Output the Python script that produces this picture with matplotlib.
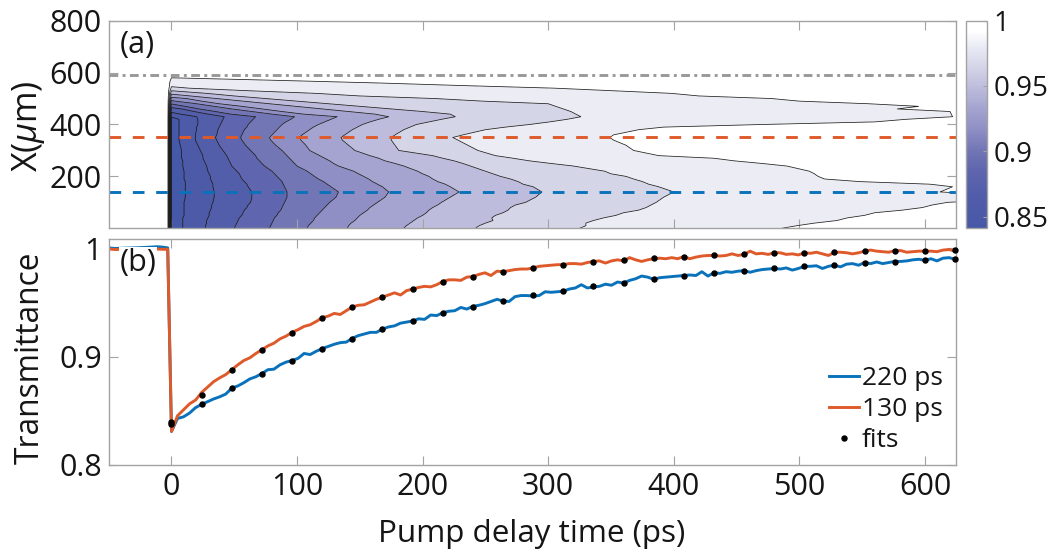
import numpy as np
import matplotlib
matplotlib.use("Agg")
import matplotlib.pyplot as plt
from matplotlib.colors import LinearSegmentedColormap, Normalize
from matplotlib.cm import ScalarMappable

plt.rcParams['font.family'] = ['Open Sans', 'DejaVu Sans']
plt.rcParams['mathtext.fontset'] = 'custom'
plt.rcParams['mathtext.rm'] = 'Open Sans'
plt.rcParams['mathtext.it'] = 'Open Sans:italic'

# ---------- panel (a): contour levels and, per X row, the delay at which each level is reached
levels = [0.845, 0.861, 0.877, 0.893, 0.909, 0.925, 0.941, 0.957, 0.973, 0.989]
x_rows = [0, 10, 20, 30, 40, 50, 60, 70, 80, 90, 100, 120, 140, 160, 170, 180, 190, 200, 210, 220, 240, 250, 260,
          270, 280, 300, 320, 340, 350, 360, 380, 390, 400, 410, 420, 430, 440, 450, 460, 470, 480, 490, 500,
          510, 520, 530, 540, 550, 560, 570, 580, 590, 800]
t_min_row = [0.84] * 35 + [0.846, 0.855, 0.864, 0.872, 0.882, 0.894, 0.906, 0.919, 0.932, 0.945, 0.957,
                           0.969, 0.976, 0.979, 0.984, 0.989, 1.0, 1.0]
crossings = [
    [9, 27, 50, 78, 108, 140, 185, 242, 325, 486],
    [9, 27, 51, 79, 109, 141, 187, 245, 330, 498],
    [9, 28, 52, 80, 111, 143, 190, 250, 330, 512],
    [9, 28, 53, 81, 113, 146, 193, 256, 336, 530],
    [9, 29, 54, 82, 114, 148, 196, 255, 344, 538],
    [10, 30, 56, 84, 116, 150, 200, 258, 354, 552],
    [10, 30, 57, 85, 118, 153, 203, 264, 360, 560],
    [10, 31, 58, 87, 120, 156, 205, 268, 372, 582],
    [10, 32, 60, 88, 122, 158, 208, 270, 378, 598],
    [10, 32, 61, 89, 124, 161, 212, 274, 382, 606],
    [10, 33, 63, 90, 126, 164, 215, 282, 386, 618],
    [11, 34, 64, 92, 131, 170, 222, 290, 392, 700],
    [11, 34, 64, 92, 133, 173, 229, 295, 400, 612],
    [11, 33, 61, 90, 127, 168, 222, 288, 388, 622],
    [11, 33, 60, 89, 124, 164, 218, 280, 380, 604],
    [11, 32, 58, 88, 121, 160, 212, 276, 375, 548],
    [10, 31, 56, 86, 117, 157, 208, 270, 368, 520],
    [10, 31, 55, 84, 114, 153, 205, 262, 362, 515],
    [10, 30, 54, 82, 111, 149, 200, 256, 350, 512],
    [10, 29, 52, 80, 108, 145, 196, 250, 345, 508],
    [9, 28, 48, 74, 100, 133, 185, 238, 320, 490],
    [9, 27, 47, 72, 98, 129, 178, 232, 302, 470],
    [9, 26, 46, 70, 96, 126, 170, 225, 285, 448],
    [8, 25, 45, 68, 94, 122, 165, 216, 272, 432],
    [8, 25, 44, 67, 92, 118, 158, 208, 258, 388],
    [8, 23, 41, 63, 88, 110, 146, 181, 244, 368],
    [7, 21, 38, 59, 83, 107, 141, 178, 236, 362],
    [6, 19, 36, 56, 79, 103, 136, 175, 228, 352],
    [6, 19, 35, 55, 78, 102, 135, 175, 224, 349],
    [6, 19, 36, 56, 80, 104, 138, 178, 232, 352],
    [6, 20, 37, 58, 84, 110, 144, 185, 250, 372],
    [6, 20, 38, 60, 86, 113, 148, 190, 266, 392],
    [6, 21, 39, 61, 88, 117, 152, 195, 285, 470],
    [6, 21, 40, 63, 91, 122, 158, 205, 301, 560],
    [6, 21, 41, 65, 95, 127, 165, 215, 315, 585],
    [0, 20, 42, 67, 98, 132, 173, 226, 326, 622],
    [0, 7, 29, 47, 80, 105, 162, 222, 322, 621],
    [0, 0, 18, 35, 64, 88, 141, 200, 318, 620],
    [0, 0, 8, 22, 48, 72, 120, 175, 312, 578],
    [0, 0, 0, 11, 34, 56, 99, 150, 306, 595],
    [0, 0, 0, 0, 20, 38, 78, 125, 300, 555],
    [0, 0, 0, 0, 3, 24, 57, 100, 248, 500],
    [0, 0, 0, 0, 0, 12, 36, 75, 210, 478],
    [0, 0, 0, 0, 0, 0, 15, 50, 150, 420],
    [0, 0, 0, 0, 0, 0, 0, 28, 115, 398],
    [0, 0, 0, 0, 0, 0, 0, 0, 62, 352],
    [0, 0, 0, 0, 0, 0, 0, 0, 14, 305],
    [0, 0, 0, 0, 0, 0, 0, 0, 0, 232],
    [0, 0, 0, 0, 0, 0, 0, 0, 0, 165],
    [0, 0, 0, 0, 0, 0, 0, 0, 0, 85],
    [0, 0, 0, 0, 0, 0, 0, 0, 0, 0],
    [0, 0, 0, 0, 0, 0, 0, 0, 0, 0],
    [0, 0, 0, 0, 0, 0, 0, 0, 0, 0],
]
x_cuts = [138, 350, 590]   # dashed cuts

# ---------- panel (b)
t_pre = [-50, -45, -30, -20, -11, -7, -3, 0]
blue_pre = [1.0005, 1.0000, 1.0005, 1.0010, 1.0016, 1.0012, 1.0005, 0.831]
orange_pre = [0.9995, 0.9990, 0.9995, 1.0000, 0.9995, 0.9992, 0.9992, 0.831]
t_step = 4.8
orange_vals = [
    .8455, .8510, .8565, .8600, .8670, .8720, .8770, .8805, .8835, .8880,
    .8925, .8965, .8990, .9030, .9065, .9100, .9125, .9165, .9190, .9225,
    .9250, .9280, .9295, .9325, .9360, .9375, .9400, .9390, .9425, .9460,
    .9475, .9480, .9505, .9530, .9550, .9570, .9590, .9570, .9610, .9625,
    .9640, .9650, .9645, .9665, .9695, .9710, .9710, .9705, .9735, .9740,
    .9760, .9775, .9750, .9790, .9785, .9795, .9805, .9810, .9810, .9820,
    .9835, .9840, .9845, .9850, .9850, .9860, .9860, .9855, .9870, .9880,
    .9885, .9865, .9885, .9895, .9885, .9915, .9895, .9880, .9895, .9905,
    .9910, .9905, .9915, .9905, .9925, .9905, .9920, .9930, .9935, .9935,
    .9930, .9935, .9950, .9935, .9945, .9975, .9950, .9955, .9945, .9960,
    .9960, .9945, .9950, .9940, .9960, .9955, .9965, .9950, .9935, .9965,
    .9965, .9960, .9950, .9960, .9975, .9985, .9975, .9970, .9965, .9980,
    .9980, .9965, .9970, .9975, .9975, .9975, .9970, .9985, .9990, .9975]
blue_vals = [
    .8430, .8445, .8480, .8530, .8560, .8585, .8610, .8630, .8655, .8710,
    .8730, .8760, .8795, .8815, .8845, .8880, .8885, .8925, .8950, .8965,
    .8985, .9030, .9020, .9050, .9075, .9095, .9115, .9130, .9135, .9170,
    .9195, .9210, .9225, .9225, .9255, .9275, .9285, .9310, .9320, .9330,
    .9350, .9345, .9385, .9380, .9405, .9420, .9425, .9455, .9440, .9465,
    .9475, .9490, .9510, .9530, .9515, .9510, .9555, .9565, .9565, .9560,
    .9565, .9600, .9595, .9600, .9605, .9625, .9635, .9665, .9635, .9645,
    .9650, .9670, .9660, .9690, .9680, .9705, .9720, .9745, .9735, .9715,
    .9730, .9735, .9740, .9745, .9750, .9755, .9750, .9785, .9745, .9775,
    .9770, .9785, .9780, .9790, .9795, .9780, .9795, .9805, .9810, .9815,
    .9810, .9820, .9800, .9815, .9835, .9835, .9840, .9815, .9835, .9845,
    .9830, .9855, .9860, .9845, .9870, .9860, .9875, .9860, .9870, .9880,
    .9880, .9885, .9895, .9900, .9890, .9905, .9885, .9910, .9915, .9900]
t_fit = [0, 24, 48, 72, 96, 120, 144, 168, 192, 216, 240, 264, 288, 312, 336, 360, 384, 408, 432, 456,
         480, 504, 528, 552, 576, 600, 624]
orange_fit = [.8400, .8650, .8877, .9065, .9222, .9354, .9462, .9551, .9625, .9690, .9739, .9785, .9819,
              .9850, .9875, .9893, .9911, .9924, .9936, .9948, .9955, .9960, .9967, .9973, .9976, .9979, .9982]
blue_fit = [.8380, .8563, .8714, .8843, .8963, .9071, .9166, .9253, .9330, .9400, .9462, .9517, .9567,
            .9610, .9650, .9684, .9717, .9748, .9773, .9794, .9816, .9835, .9850, .9868, .9878, .9890, .9899]
series_labels = ['220 ps', '130 ps', 'fits']

BLUE = '#0A72BA'
ORANGE = '#DF5A2A'
GRAY = '#A3A3A3'
TXT = '#151515'
FS = 22

W, H = 1050, 552
fig = plt.figure(figsize=(W / 100, H / 100), dpi=100, facecolor='white')
def axpx(l, t, r, b):
    return fig.add_axes([l / W, 1 - b / H, (r - l) / W, (b - t) / H])

ax_a = axpx(108.7, 20.7, 956.3, 228.3)
ax_b = axpx(108.7, 238.7, 956.3, 465)
cax = axpx(966.3, 20.7, 986.7, 228.3)

cmap = LinearSegmentedColormap.from_list('tr', [
    (0.0, '#4658A8'), (0.075, '#4C5AA8'), (0.176, '#535EAA'), (0.277, '#5F65AE'), (0.377, '#7276B5'),
    (0.478, '#8F8FC6'), (0.579, '#A5A4D0'), (0.679, '#BDBCDC'), (0.78, '#D5D5E8'), (0.88, '#EBEBF5'),
    (0.95, '#FFFFFF'), (1.0, '#FFFFFF')])
norm = Normalize(0.841, 1.0)

# curvilinear mesh: rows are X, columns follow the level crossings
cr = np.array(crossings, float)
t_min_arr = np.array(t_min_row)[:, None]
n = len(x_rows)
Tm = np.hstack([np.full((n, 1), -3.0), np.zeros((n, 1)), cr, np.full((n, 1), 700.0)])
Zm = np.hstack([np.ones((n, 1)), t_min_arr, np.maximum(np.array(levels)[None, :], t_min_arr), np.ones((n, 1))])
Xm = np.repeat(np.array(x_rows, float)[:, None], Tm.shape[1], axis=1)

ax_a.contourf(Tm, Xm, Zm, levels=[0.83] + levels + [1.01], cmap=cmap, norm=norm)
ax_a.contour(Tm, Xm, Zm, levels=levels, colors='#1A1A1A', linewidths=0.55)
ax_a.axhline(x_cuts[2], color='#999999', lw=2.1, ls=(0, (3, 1.5, 1, 1.5)))
ax_a.axhline(x_cuts[1], color=ORANGE, lw=2.1, ls=(0, (4, 4)))
ax_a.axhline(x_cuts[0], color=BLUE, lw=2.1, ls=(0, (4, 4)))
ax_a.set_xlim(-50, 625)
ax_a.set_ylim(0, 800)
ax_a.set_yticks([200, 400, 600, 800])
ax_a.set_xticks([0, 100, 200, 300, 400, 500, 600])
ax_a.set_xticklabels([])
ax_a.set_ylabel('X($\\mu$m)', fontsize=FS + 2.5, color=TXT)
ax_a.yaxis.set_label_coords(-0.0725, 0.493)
ax_a.text(120 / W, 1 - 45 / H, '(a)', transform=fig.transFigure, fontsize=FS, color=TXT, va='center', ha='left')

t_line = t_pre + [round(t_step * (i + 1), 1) for i in range(len(orange_vals))]
ax_b.plot(t_line, blue_pre + blue_vals, color=BLUE, lw=2.1, label=series_labels[0])
ax_b.plot(t_line, orange_pre + orange_vals, color=ORANGE, lw=2.1, label=series_labels[1])
ax_b.plot(t_fit, orange_fit, ls='none', marker='o', ms=3.6, color='black', zorder=4, clip_on=False)
ax_b.plot(t_fit, blue_fit, ls='none', marker='o', ms=3.6, color='black', zorder=4, label=series_labels[2], clip_on=False)
ax_b.set_xlim(-50, 625)
ax_b.set_ylim(0.8, 1.009)
ax_b.set_yticks([0.8, 0.9, 1.0])
ax_b.set_yticklabels(['0.8', '0.9', '1'])
ax_b.set_xticks([0, 100, 200, 300, 400, 500, 600])
ax_b.set_xlabel('Pump delay time (ps)', fontsize=FS + 0.6, color=TXT)
ax_b.xaxis.set_label_coords(0.4994, -0.24)
ax_b.set_ylabel('Transmittance', fontsize=FS + 0.8, color=TXT)
ax_b.yaxis.set_label_coords(-0.0725, 0.473)
ax_b.text(120 / W, 1 - 263 / H, '(b)', transform=fig.transFigure, fontsize=FS, color=TXT, va='center', ha='left',
          zorder=6, bbox=dict(facecolor='white', edgecolor='none', pad=0.5))
leg = ax_b.legend(loc='lower right', bbox_to_anchor=(943 / W, 1 - 453 / H), bbox_transform=fig.transFigure,
                  frameon=False, fontsize=FS - 3, handlelength=1.15, handletextpad=0.12, labelspacing=0.22,
                  borderpad=0, borderaxespad=0)
for txt in leg.get_texts():
    txt.set_color(TXT)

for ax in (ax_a, ax_b):
    ax.tick_params(direction='in', length=6.5, width=0.8, color=GRAY, top=True, right=True,
                   labelsize=FS, labelcolor=TXT, pad=5)
    for s in ax.spines.values():
        s.set_color(GRAY)
        s.set_linewidth(1.0)

cb = fig.colorbar(ScalarMappable(norm=norm, cmap=cmap), cax=cax, ticks=[0.85, 0.9, 0.95, 1.0])
cb.ax.set_yticklabels(['0.85', '0.9', '0.95', '1'])
cb.ax.tick_params(direction='in', length=3, width=0.8, color=GRAY, labelsize=FS - 2, labelcolor=TXT, pad=5)
cb.outline.set_edgecolor(GRAY)
cb.outline.set_linewidth(1.0)

fig.savefig('out.png', dpi=100)
